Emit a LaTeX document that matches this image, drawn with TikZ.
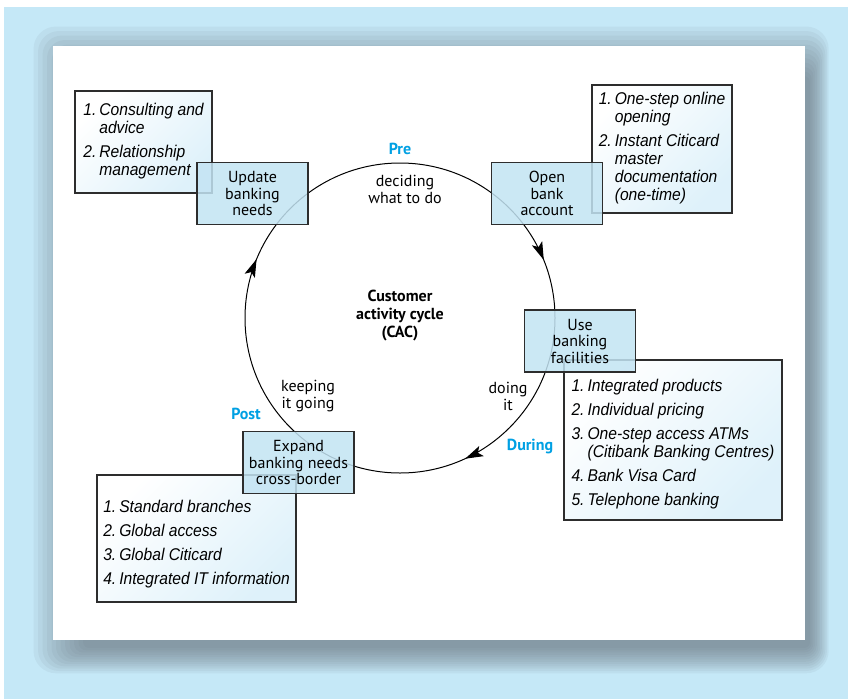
\documentclass[tikz,border=0pt]{standalone}
\usepackage{fontspec}
\setmainfont{PT Sans}
\newfontfamily\listfont{Liberation Sans}[FakeStretch=0.92]
\usetikzlibrary{arrows.meta}
\usetikzlibrary{decorations.markings}
\definecolor{bgblue}{RGB}{197,232,247}
\definecolor{shadowc}{RGB}{100,110,120}
\definecolor{boxblue}{RGB}{195,228,243}
\definecolor{listblue}{RGB}{222,241,250}
\definecolor{phase}{RGB}{0,160,227}
\definecolor{edge}{RGB}{45,45,45}
\newcommand{\listlead}[1]{\rule{0pt}{#1}}
\def\cycr{155}

\tikzset{
  stage/.style={draw=edge, line width=1.2pt, fill=boxblue, fill opacity=0.85,
    text opacity=1, minimum width=111pt, minimum height=62pt, inner sep=0pt,
    align=center, font=\fontsize{16}{16.5}\selectfont},
  listbox/.style={draw=edge, line width=1.2pt, top color=white,
    bottom color=listblue, shading angle=45, inner sep=0pt,
    font=\listfont\itshape\fontsize{17}{18}\selectfont},
  phaselbl/.style={text=phase, font=\bfseries\fontsize{16}{18}\selectfont},
  note/.style={align=center, font=\fontsize{16}{17}\selectfont},
  cyc/.style={line width=1pt, postaction={decorate}, decoration={markings,
    mark=at position 0.181 with {\arrow{Stealth[length=18pt,width=11pt,inset=4pt]}},
    mark=at position 0.562 with {\arrow{Stealth[length=18pt,width=11pt,inset=4pt]}},
    mark=at position 0.939 with {\arrow{Stealth[length=18pt,width=11pt,inset=4pt]}}}},
}

\begin{document}
\begin{tikzpicture}[x=1pt, y=-1pt]
  \useasboundingbox (0,0) rectangle (848,699);
  \fill[bgblue] (4,7) rectangle (848,699);
  % soft shadow behind the sheet
  \foreach \i in {0,...,11}{
    \pgfmathsetmacro\rc{6+1.5*\i}
    \fill[shadowc, fill opacity=0.075, rounded corners=\rc pt]
      ({83-4.5*\i},{76-4.5*\i}) rectangle ({810+1.7*\i},{648+2.3*\i});
  }
  \fill[white] (53,46) rectangle (805,640);

  % the cycle
  \coordinate (c) at (400,318);
  \draw[cyc] (c) circle[radius=\cycr];

  % lists
  \node[listbox, minimum width=137pt, minimum height=102pt] (l1) at (143.5,142)
    {\begin{tabular}{@{}l@{\hspace{3pt}}l@{}}
      1. & Consulting and\\ & advice\\[6pt]
      2. & Relationship\\ & management
    \end{tabular}};
  \node[listbox, minimum width=140pt, minimum height=128pt] (l2) at (662,149)
    {\begin{tabular}{@{}l@{\hspace{3pt}}l@{}}
      1. & One-step online\\ & opening\\[6pt]
      2. & Instant Citicard\\ & master\\ & documentation\\ & (one-time)
    \end{tabular}};
  \node[listbox, minimum width=218pt, minimum height=160pt] (l3) at (673,440)
    {\begin{tabular}{@{}l@{\hspace{3pt}}l@{}}
      \listlead{23pt}1. & Integrated products\\[6pt]
      2. & Individual pricing\\[6pt]
      3. & One-step access ATMs\\ & (Citibank Banking Centres)\\[6pt]
      4. & Bank Visa Card\\[6pt]
      5. & Telephone banking
    \end{tabular}};
  \node[listbox, minimum width=199pt, minimum height=127pt] (l4) at (196.5,538.5)
    {\begin{tabular}{@{}l@{\hspace{3pt}}l@{}}
      \listlead{25pt}1. & Standard branches\\[6pt]
      2. & Global access\\[6pt]
      3. & Global Citicard\\[6pt]
      4. & Integrated IT information
    \end{tabular}};

  % stages
  \node[stage] (b1) at (252.5,193.5) {Update\\banking\\needs};
  \node[stage] (b2) at (547,193.5) {Open\\bank\\account};
  \node[stage] (b3) at (580,341) {Use\\banking\\facilities};
  \node[stage] (b4) at (298.5,462.5) {Expand\\banking needs\\cross-border};

  % labels
  \node[phaselbl] (pre) at (400,149) {Pre};
  \node[note] (t1) at (405,189) {deciding\\what to do};
  \node[note, font=\bfseries\fontsize{16}{18}\selectfont] (cac) at (400,316)
    {Customer\\activity cycle\\(CAC)};
  \node[note] (t3) at (308,396) {keeping\\it going};
  \node[note] (t2) at (508,396) {doing\\it};
  \node[phaselbl] (post) at (246,414) {Post};
  \node[phaselbl] (during) at (530,446) {During};
\end{tikzpicture}
\end{document}
